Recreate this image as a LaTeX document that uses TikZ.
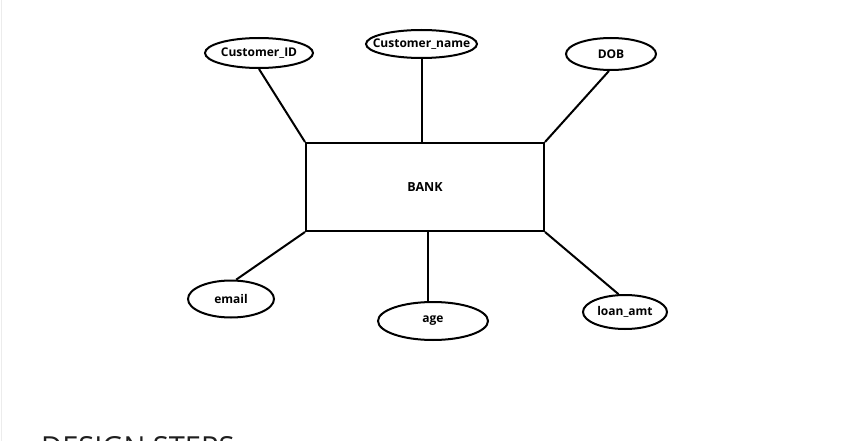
\documentclass[tikz,border=0pt]{standalone}
\usepackage{fontspec}
\setmainfont{Open Sans}
\usetikzlibrary{shapes.geometric}
\newcommand{\attrtext}[1]{\makebox[0pt]{#1}}
\begin{document}
\begin{tikzpicture}[x=1pt,y=-1pt,
  attr/.style={draw=black, line width=2pt, ellipse, inner sep=0pt, font=\bfseries\fontsize{12}{14}\selectfont},
  ent/.style={draw=black, line width=2pt, rectangle, inner sep=0pt, font=\bfseries\fontsize{12.5}{14}\selectfont},
  link/.style={line width=2pt, black}]
\useasboundingbox (0,0) rectangle (857,441);
\fill[white] (0,0) rectangle (857,441);
\draw[gray!15, line width=1pt] (1,0) -- (1,441);
\node[ent, minimum width=238pt, minimum height=88pt] (bank) at (425,187) {BANK};
\node[attr, minimum width=108pt, minimum height=30pt] (cid) at (259,53) {\attrtext{Customer\_ID}};
\node[attr, minimum width=111pt, minimum height=28pt] (cname) at (421.5,44) {\attrtext{Customer\_name}};
\node[attr, minimum width=90pt, minimum height=32pt] (dob) at (611,54) {\attrtext{DOB}};
\node[attr, minimum width=86pt, minimum height=37pt] (email) at (231,299) {\attrtext{email}};
\node[attr, minimum width=110pt, minimum height=38pt] (age) at (433,321) {\attrtext{age}};
\node[attr, minimum width=84pt, minimum height=34pt] (loan) at (625,312) {\attrtext{loan\_amt}};
\draw[link] (cid.south) -- (bank.north west);
\draw[link] (cname.south) -- (cname.south |- bank.north);
\draw[link] (dob.-97) -- (bank.north east);
\draw[link] (bank.south west) -- (email.75);
\draw[link] (bank.south -| age.105) -- (age.105);
\draw[link] (bank.south east) -- (loan.110);
\begin{scope}
\clip (0,0) rectangle (857,441);
\node[anchor=base west, inner sep=0pt, text=black!88, font=\fontsize{29}{32}\selectfont] (title) at (41,457.5) {DESIGN STEPS};
\end{scope}
\end{tikzpicture}
\end{document}
